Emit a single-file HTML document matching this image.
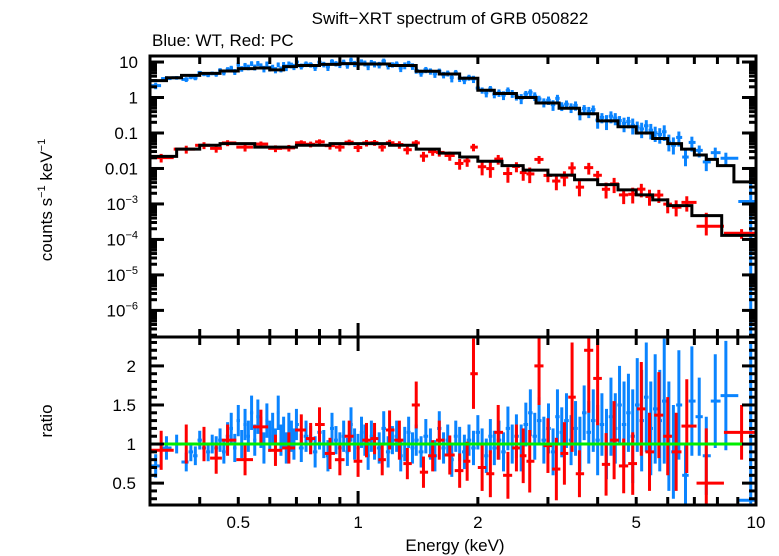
<!DOCTYPE html>
<html><head><meta charset="utf-8"><style>
html,body{margin:0;padding:0;background:#fff;}
svg{display:block;font-family:"Liberation Sans",sans-serif;}
</style></head><body>
<svg id="chart" width="779" height="556" viewBox="0 0 779 556" xmlns="http://www.w3.org/2000/svg">
<text x="450" y="24" font-size="17" text-anchor="middle">Swift−XRT spectrum of GRB 050822</text>
<text x="152" y="46" font-size="17">Blue: WT, Red: PC</text>
<text transform="translate(52,200) rotate(-90)" font-size="17" text-anchor="middle">counts s<tspan font-size="11" dy="-7">−1</tspan><tspan dy="7"> keV</tspan><tspan font-size="11" dy="-7">−1</tspan></text>
<text transform="translate(52,421) rotate(-90)" font-size="17" text-anchor="middle">ratio</text>
<text x="455" y="551" font-size="17" text-anchor="middle">Energy (keV)</text>
<g id="gdata"></g>
<g id="gaxes"></g>
</svg>
<script>
const blueModelEdges=[0.3,0.33,0.36,0.4,0.45,0.5,0.55,0.6,0.65,0.7,0.8,0.9,1.0,1.2,1.4,1.6,1.8,2.0,2.2,2.5,2.8,3.2,3.6,4.0,4.5,5.0,5.5,6.0,6.5,7.0,7.5,8.0,8.8,10];
const blueModelVals=[3.0,3.6,4.2,4.8,5.6,6.5,6.8,6.0,7.4,8.0,8.6,9.0,8.8,8.0,5.5,4.6,3.5,1.6,1.3,1.0,0.7,0.5,0.35,0.22,0.15,0.1,0.07,0.05,0.035,0.024,0.018,0.012,0.0042];
const redModelEdges=[0.3,0.35,0.4,0.45,0.55,0.7,0.85,1.0,1.2,1.4,1.6,1.8,2.0,2.3,2.6,3.0,3.5,4.0,4.5,5.0,5.5,6.0,6.9,8.2,10];
const redModelVals=[0.022,0.035,0.045,0.05,0.04,0.045,0.05,0.05,0.045,0.035,0.027,0.021,0.016,0.012,0.009,0.0065,0.0048,0.0035,0.0025,0.0018,0.0013,0.0009,0.00047,0.00013];
const blueE=[0.31,0.33,0.35,0.37,0.38,0.39,0.40,0.41,0.42,0.43,0.44,0.45,0.46,0.47,0.48,0.49,0.50,0.51,0.52,0.53,0.54,0.55,0.56,0.57,0.58,0.59,0.60,0.61,0.62,0.63,0.64,0.65,0.66,0.67,0.68,0.69,0.70,
0.72,0.74,0.76,0.78,0.80,0.82,0.84,0.86,0.88,0.90,0.92,0.94,0.96,0.98,1.00,1.02,1.04,1.06,1.08,1.10,
1.13,1.16,1.19,1.22,1.25,1.28,1.31,1.34,1.37,1.40,
1.44,1.48,1.52,1.56,1.60,1.64,1.68,1.72,1.76,1.80,
1.85,1.90,1.95,2.00,2.05,2.10,2.15,2.20,
2.26,2.32,2.38,2.44,2.50,2.57,2.64,2.71,2.78,2.85,2.93,3.01,3.09,3.17,3.25,3.34,3.43,3.52,3.61,3.70,
3.80,3.90,4.00,4.10,4.21,4.32,4.43,4.54,4.66,4.78,4.90,5.03,5.16,5.30,5.44,5.58,5.73,5.88,6.04,6.20,
6.40,6.65,6.90,7.20,7.50,7.90,8.40,9.70];
const blueRatio=[0.72,0.95,1.0,0.77,0.9,0.85,1.05,0.95,0.9,1.0,
0.95,1.05,0.9,1.1,1.2,0.95,1.3,1.0,1.25,1.1,
1.4,1.05,1.35,1.15,0.95,1.3,1.1,1.2,1.0,1.4,
1.05,1.15,0.95,1.2,1.1,1.0,1.25,
0.95,1.1,1.05,0.9,1.15,1.0,0.85,1.2,1.05,0.95,
1.1,0.9,1.25,1.0,0.95,1.15,1.05,0.85,1.1,1.0,
0.95,1.2,0.9,1.05,1.1,0.85,1.0,1.15,0.95,1.05,
0.9,1.1,1.0,0.85,1.2,0.95,1.05,0.8,1.1,1.0,
0.9,1.05,0.95,1.15,1.0,0.85,1.1,0.95,
1.05,0.9,1.2,1.0,1.1,0.95,1.25,1.4,1.1,1.3,
1.05,1.2,0.9,1.35,1.15,1.3,1.05,1.2,1.0,1.4,
1.15,1.3,1.05,1.25,1.0,1.35,1.2,1.5,1.25,1.4,
1.1,1.5,1.3,1.6,1.2,1.45,1.3,1.55,1.1,0.9,
1.5,0.6,1.55,1.35,0.85,1.55,1.62,0.28];
const blueErr=[0.15,0.15,0.12,0.12,0.12,0.12,0.12,0.12,0.12,0.12,
0.15,0.15,0.15,0.18,0.2,0.18,0.2,0.18,0.2,0.2,
0.22,0.2,0.22,0.2,0.2,0.22,0.2,0.2,0.2,0.22,
0.2,0.2,0.2,0.2,0.2,0.2,0.2,
0.18,0.2,0.18,0.2,0.22,0.18,0.2,0.2,0.18,0.2,
0.2,0.18,0.22,0.2,0.18,0.2,0.2,0.18,0.2,0.2,
0.2,0.22,0.2,0.18,0.2,0.2,0.22,0.2,0.2,0.2,
0.2,0.22,0.2,0.2,0.22,0.2,0.2,0.22,0.2,0.22,
0.22,0.2,0.22,0.22,0.2,0.22,0.22,0.22,
0.25,0.25,0.28,0.25,0.28,0.3,0.28,0.3,0.3,0.3,
0.3,0.32,0.3,0.35,0.32,0.35,0.32,0.35,0.35,0.35,
0.4,0.4,0.45,0.4,0.45,0.5,0.45,0.5,0.55,0.5,
0.6,0.6,0.65,0.7,0.6,0.7,0.65,0.8,0.7,0.6,
0.7,0.4,0.7,0.5,0.5,0.6,0.7,2.0];
const redE=[0.32,0.37,0.41,0.44,0.47,0.52,0.57,0.62,0.67,0.72,0.76,0.8,0.85,0.9,0.95,1.0,1.05,1.1,1.15,1.2,1.27,1.33,1.4,1.46,1.54,1.6,1.7,1.8,1.88,1.95,2.05,2.15,2.25,2.38,2.5,2.6,2.7,2.85,3.0,3.15,3.3,3.45,3.6,3.8,4.0,4.2,4.4,4.65,4.9,5.15,5.4,5.7,6.0,6.3,6.7,7.5,9.2];
const redRatio=[0.92,1.0,1.0,0.82,1.05,0.8,1.22,0.92,0.95,1.18,1.07,1.25,0.88,0.8,1.1,0.78,1.05,1.07,0.8,1.18,1.05,0.75,1.5,0.64,0.85,1.05,0.86,0.66,0.78,1.9,0.7,0.62,1.15,0.6,0.95,0.85,0.78,2.0,0.98,0.68,0.88,1.6,0.62,2.2,1.84,0.74,1.05,0.72,0.75,1.45,0.9,1.37,1.1,0.9,1.23,0.5,1.15];
const redErr=[0.25,0.25,0.22,0.2,0.2,0.2,0.22,0.2,0.2,0.2,0.2,0.22,0.2,0.2,0.2,0.2,0.22,0.2,0.2,0.25,0.25,0.2,0.3,0.2,0.2,0.25,0.25,0.22,0.25,0.45,0.3,0.3,0.35,0.3,0.3,0.35,0.4,0.5,0.35,0.4,0.4,0.7,0.3,0.8,0.6,0.4,0.5,0.35,0.4,0.6,0.5,0.55,0.5,0.5,0.6,0.7,0.35];
const xTickLabels=[0.5,1,2,5,10];
const yTopDecades=[1,0,-1,-2,-3,-4,-5,-6];
const ratioTickLabels=[0.5,1,1.5,2];

const L=150,R=756,T1=56,B1=337,B2=505;
const logMin=Math.log10(0.3),logMax=1;
function X(e){return L+(Math.log10(e)-logMin)/(logMax-logMin)*(R-L);}
const yTopMax=1.17,yTopMin=-6.75;
function Y1(v){let lv=Math.log10(Math.max(v,1e-9));return T1+(yTopMax-lv)/(yTopMax-yTopMin)*(B1-T1);}
const rMax=2.37,rMin=0.22;
function Y2(r){return B1+(rMax-r)/(rMax-rMin)*(B2-B1);}
const NS="http://www.w3.org/2000/svg";
const gd=document.getElementById('gdata'),ga=document.getElementById('gaxes');
function mk(tag,attrs,parent){const el=document.createElementNS(NS,tag);for(const k in attrs)el.setAttribute(k,attrs[k]);parent.appendChild(el);return el;}
function clampY(y,top,bot){return Math.max(top,Math.min(bot,y));}
function modelAt(edges,vals,e){for(let i=0;i<vals.length;i++){if(e>=edges[i]&&e<edges[i+1])return vals[i];}return vals[vals.length-1];}

function drawPoints(E,ratio,err,edges,vals,color,name,last){
  const n=Math.min(E.length,ratio.length,err.length);
  for(let i=0;i<n;i++){
    const lo=i>0?Math.sqrt(E[i-1]*E[i]):E[i]*E[i]/Math.sqrt(E[i]*E[i+1]);
    const hi=i<n-1?Math.sqrt(E[i]*E[i+1]):Math.min(10,E[i]*E[i]/lo);
    const m=modelAt(edges,vals,E[i]);
    const v=m*ratio[i];
    let vlo=m*(ratio[i]-err[i]);
    const isLast=(i===n-1&&last);
    if(!isLast) vlo=Math.max(vlo,v*0.55);
    const vhi=m*(ratio[i]+err[i]);
    const g=mk('g',{stroke:color,'stroke-width':3},gd);
    
    
    mk('line',{x1:X(lo),x2:X(hi),y1:Y1(v),y2:Y1(v)},g);
    mk('line',{x1:X(E[i]),x2:X(E[i]),y1:clampY(Y1(vhi),T1,B1),y2:clampY(vlo>0?Y1(vlo):B1,T1,B1)},g);
    const g2=mk('g',{stroke:color,'stroke-width':3},gd);
    
    
    const ry=Y2(ratio[i]);
    if(ry>B1&&ry<B2)mk('line',{x1:X(lo),x2:X(hi),y1:ry,y2:ry},g2);
    mk('line',{x1:X(E[i]),x2:X(E[i]),y1:clampY(Y2(ratio[i]+err[i]),B1,B2),y2:clampY(Y2(ratio[i]-err[i]),B1,B2)},g2);
  }
}
function drawModel(edges,vals,name){
  let d='';
  for(let i=0;i<vals.length;i++){const y=Y1(vals[i]);d+=(i===0?'M':'L')+X(edges[i])+','+y+'L'+X(edges[i+1])+','+y;}
  const p=mk('path',{d:d,fill:'none',stroke:'#000','stroke-width':3},gd);
  
  
}
drawPoints(blueE,blueRatio,blueErr,blueModelEdges,blueModelVals,'#0a84ff','wt-data',true);
drawPoints(redE,redRatio,redErr,redModelEdges,redModelVals,'#ff0000','pc-data',false);
drawModel(blueModelEdges,blueModelVals,'wt-model-line');
drawModel(redModelEdges,redModelVals,'pc-model-line');
const gl=mk('line',{x1:L,x2:R,y1:Y2(1),y2:Y2(1),stroke:'#00ee00','stroke-width':3},gd);



const f1=mk('rect',{x:L,y:T1,width:R-L,height:B1-T1,fill:'none',stroke:'#000','stroke-width':3},ga);


const f2=mk('rect',{x:L,y:B1,width:R-L,height:B2-B1,fill:'none',stroke:'#000','stroke-width':3},ga);


const xt=[0.3,0.4,0.5,0.6,0.7,0.8,0.9,1,2,3,4,5,6,7,8,9,10];
xt.forEach(e=>{
  const x=X(e),len=(e===1||e===10)?14:8;
  [[T1,1],[B1,-1],[B1,1],[B2,-1]].forEach(([y,s])=>{const t=mk('line',{x1:x,x2:x,y1:y,y2:y+s*len,stroke:'#000','stroke-width':3},ga);
  });
});
xTickLabels.forEach(e=>{
  const t=mk('text',{x:X(e),y:528,'font-size':17,'text-anchor':'middle'},ga);t.textContent=String(e);
  
  
});
for(let d=-7;d<=1;d++){for(let k=1;k<=9;k++){const v=k*Math.pow(10,d);const y=Y1(v);if(y<T1||y>B1)continue;const len=k===1?14:7;
  [[L,1],[R,-1]].forEach(([x,s])=>{const t=mk('line',{x1:x,x2:x+s*len,y1:y,y2:y,stroke:'#000','stroke-width':3},ga);
  });}}
yTopDecades.forEach(d=>{
  const y=Y1(Math.pow(10,d))+6;
  const t=mk('text',{x:138,y:y,'font-size':17,'text-anchor':'end'},ga);
  if(d>=-2){t.textContent=d===1?'10':d===0?'1':d===-1?'0.1':'0.01';}
  else{t.textContent='10';const s=mk('tspan',{'font-size':11,dy:-7},t);s.textContent='−'+(-d);}
  
  
});
for(let r=3;r<=23;r++){const v=r/10;const y=Y2(v);if(y<B1||y>B2)continue;const len=(r%5===0)?14:7;
  [[L,1],[R,-1]].forEach(([x,s])=>{const t=mk('line',{x1:x,x2:x+s*len,y1:y,y2:y,stroke:'#000','stroke-width':3},ga);
  });}
ratioTickLabels.forEach(r=>{
  const t=mk('text',{x:136,y:Y2(r)+6,'font-size':17,'text-anchor':'end'},ga);t.textContent=String(r);
  
  
});
</script>
</body></html>
